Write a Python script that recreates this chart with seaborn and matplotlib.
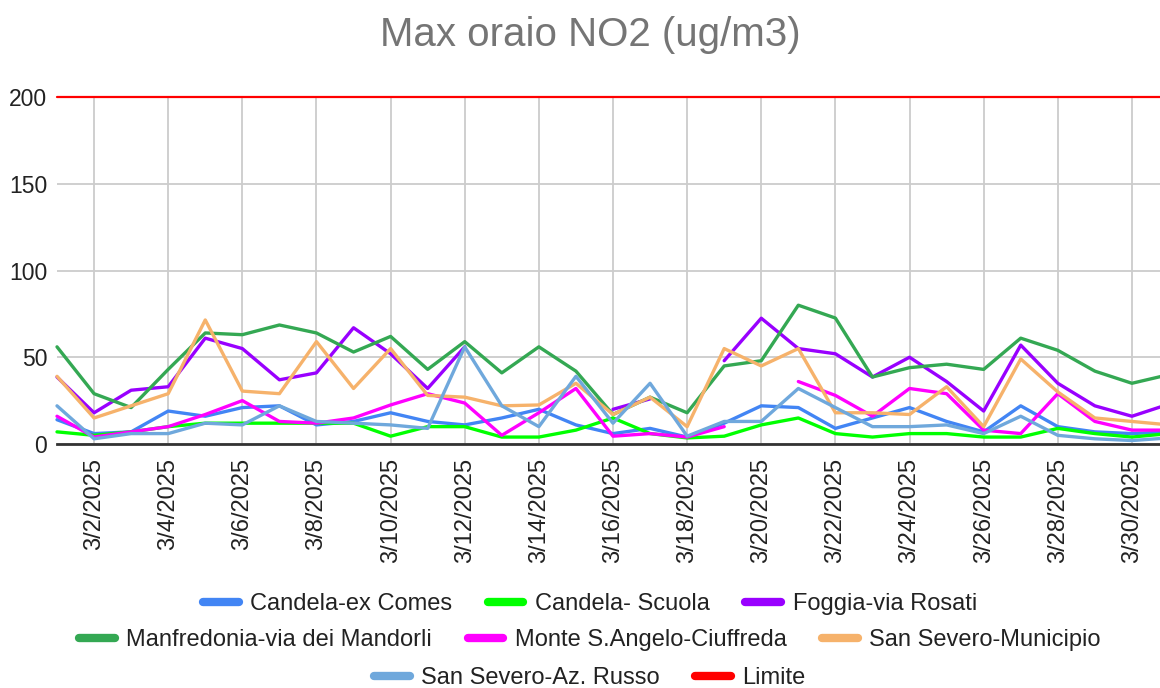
import numpy as np
import pandas as pd
import matplotlib
matplotlib.use("Agg")
import matplotlib.pyplot as plt
import seaborn as sns
from matplotlib.lines import Line2D

nan = np.nan

# ---- data ----
days = list(range(1, 32))                       # March 2025
tick_days = list(range(2, 31, 2))
tick_labels = [f"3/{d}/2025" for d in tick_days]
y_ticks = [0, 50, 100, 150, 200]

stations = [
    "Candela-ex Comes",
    "Candela- Scuola",
    "Foggia-via Rosati",
    "Manfredonia-via dei Mandorli",
    "Monte S.Angelo-Ciuffreda",
    "San Severo-Municipio",
    "San Severo-Az. Russo",
    "Limite",
]

candela_ex_comes = [14, 6, 7, 19, 16, 21, 22, 11, 13, 18, 13, 11, 15, 20, 11, 6,
                    9, 4, 12, 22, 21, 9, 15, 21, 13, 7, 22, 10, 7, 6, 7]
candela_scuola = [7, 5, 7, 10, 12, 12, 12, 12, 12, 4.5, 10, 10, 4, 4, 8, 15,
                  6, 3.5, 4.5, 11, 15, 6, 4, 6, 6, 4, 4, 9, 6, 4, 6]
foggia_rosati = [38.6, 18, 31, 33, 61, 55, 37, 41, 67, 52, 32, 56, nan, nan, nan, 20,
                 26, nan, 48, 72.5, 55, 52, 38.6, 50, 36, 19, 57, 35, 22, 16, 23]
manfredonia = [56, 29, 21, 43, 64, 63, 68.6, 64, 53, 62, 43, 59, 41, 56, 42, 17,
               27, 18, 45, 48, 80, 72.6, 38.6, 44, 46, 43, 61, 54, 42, 35, 40]
monte_s_angelo = [16, 4, 7, 10, 17, 25, 13, 12, 15, 22.5, 29, 23.6, 5, 18, 32, 4.5,
                  6, 4, 10, nan, 36, 28, 16, 32, 29, 8, 6, 29, 13, 8, 8]
ss_municipio = [39, 15, 22, 29, 71.5, 30.5, 29, 59, 32, 55, 28, 27, 22, 22.5, 35, 17,
                27, 10, 55, 45, 55, 18, 18, 17, 33, 10, 49, 30, 15, 13, 11]
ss_az_russo = [22, 3, 6, 6, 12, 11, 22, 13, 12, 11, 9, 56, 22, 10, 39, 12,
               35, 4.5, 13, 13, 32, 21, 10, 10, 11, 6, 16, 5, 3, 2, 3.5]
limite = [200] * 31

values = [candela_ex_comes, candela_scuola, foggia_rosati, manfredonia,
          monte_s_angelo, ss_municipio, ss_az_russo, limite]

colors = ["#4285F4", "#00FF00", "#9900FF", "#34A853",
          "#FF00FF", "#F6B26B", "#6FA8DC", "#FF0000"]
palette = dict(zip(stations, colors))

# long-form frame; contiguous runs get their own unit id so gaps stay gaps
rows = []
for name, vals in zip(stations, values):
    seg, prev_nan = 0, True
    for d, v in zip(days, vals):
        if np.isnan(v):
            prev_nan = True
            continue
        if prev_nan:
            seg += 1
            prev_nan = False
        rows.append((name, d, v, f"{name}#{seg}"))
df = pd.DataFrame(rows, columns=["station", "day", "value", "seg"])

# ---- figure ----
sns.set_style("white")
plt.rcParams["font.family"] = ["Liberation Sans", "DejaVu Sans"]

W, H = 1160, 688
fig = plt.figure(figsize=(W / 100, H / 100), dpi=100)
left, right, top, bottom = 57, 1169, 97, 444
ax = fig.add_axes([left / W, 1 - bottom / H, (right - left) / W, (bottom - top) / H])

sns.lineplot(data=df, x="day", y="value", hue="station", units="seg",
             estimator=None, palette=palette, hue_order=stations,
             linewidth=2.4, legend=False, ax=ax)
for ln in ax.lines:
    ln.set_clip_on(False)
    ln.set_solid_joinstyle("round")
ax.lines[-1].set_linewidth(1.6)

ax.set_xlim(1, 31)
ax.set_ylim(0, 200)
ax.set_xticks(tick_days)
ax.set_xticklabels(tick_labels, rotation=90, fontsize=17, color="#222222")
ax.set_yticks(y_ticks)
ax.set_yticklabels([str(v) for v in y_ticks], fontsize=16.5, color="#222222")
ax.tick_params(axis="x", length=0, pad=10)
ax.tick_params(axis="y", length=0, pad=7)
ax.set_xlabel("")
ax.set_ylabel("")
ax.grid(True, color="#cccccc", linewidth=1.3)
ax.set_axisbelow(True)
for s in ["left", "right", "top"]:
    ax.spines[s].set_visible(False)
ax.spines["bottom"].set_color("#333333")
ax.spines["bottom"].set_linewidth(2)

fig.text(590 / W, 1 - 35 / H, "Max oraio NO2 (ug/m3)", ha="center", va="center",
         fontsize=29, color="#757575")

# legend rows (flow layout like the original)
legend_rows = [[0, 1, 2], [3, 4, 5], [6, 7]]
row_y = [604, 640, 678]
for idxs, yy in zip(legend_rows, row_y):
    handles = [Line2D([], [], color=colors[i], linewidth=6) for i in idxs]
    labels = [stations[i] for i in idxs]
    fig.legend(handles, labels, loc="center", bbox_to_anchor=(590 / W, 1 - yy / H),
               ncol=len(idxs), frameon=False, fontsize=17, handlelength=1.5,
               handletextpad=0.5, columnspacing=1.5, borderpad=0, labelcolor="#222222")

fig.savefig("out.png", dpi=100)
